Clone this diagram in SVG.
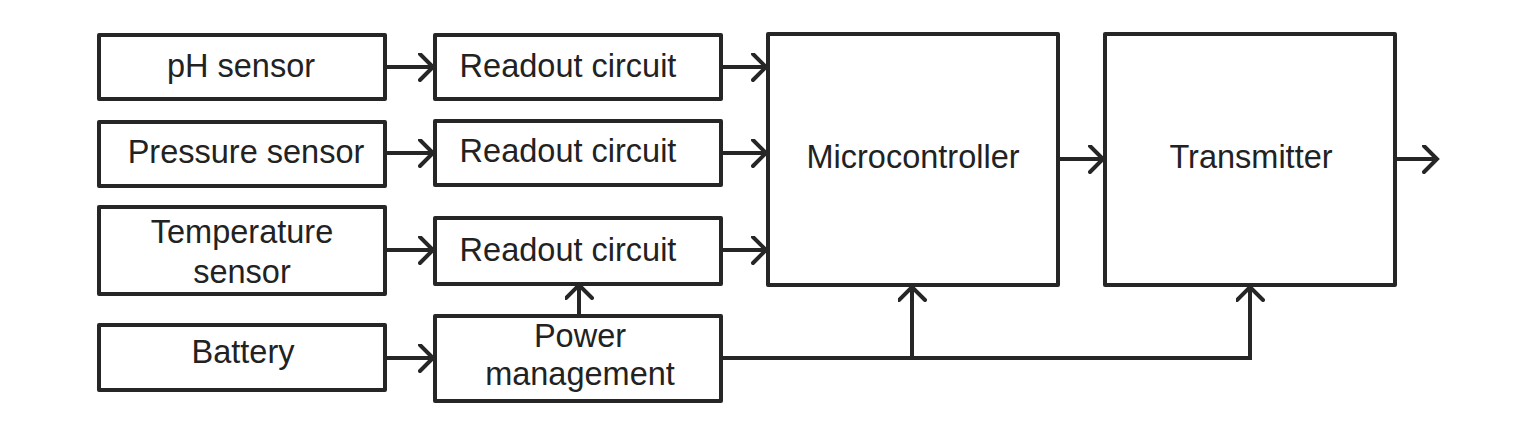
<svg xmlns="http://www.w3.org/2000/svg" width="1527" height="421" viewBox="0 0 1527 421">
<defs>
<style>
.box{fill:#fff;stroke:#262626;stroke-width:4;stroke-linejoin:round}
.lbl{font-family:"Liberation Sans",Arial,sans-serif;font-size:32.5px;fill:#222;text-anchor:middle}
.con{fill:none;stroke:#262626;stroke-width:4}
</style>
<marker id="arr" markerUnits="userSpaceOnUse" markerWidth="30" markerHeight="34" refX="16" refY="14" orient="auto" viewBox="0 0 30 34">
<path d="M2,1 L15,14 L2,27" fill="none" stroke="#262626" stroke-width="4" stroke-linecap="round" stroke-linejoin="miter"/>
</marker>
</defs>
<rect width="1527" height="421" fill="#fff"/>
<g id="connectors">
<line class="con" x1="385" y1="67" x2="434" y2="67" marker-end="url(#arr)"/>
<line class="con" x1="385" y1="153" x2="434" y2="153" marker-end="url(#arr)"/>
<line class="con" x1="385" y1="250" x2="434" y2="250" marker-end="url(#arr)"/>
<line class="con" x1="385" y1="358" x2="434" y2="358" marker-end="url(#arr)"/>
<line class="con" x1="721" y1="67" x2="767" y2="67" marker-end="url(#arr)"/>
<line class="con" x1="721" y1="153" x2="767" y2="153" marker-end="url(#arr)"/>
<line class="con" x1="721" y1="250" x2="767" y2="250" marker-end="url(#arr)"/>
<line class="con" x1="579" y1="316" x2="579" y2="284" marker-end="url(#arr)"/>
<line class="con" x1="1058" y1="159" x2="1104" y2="159" marker-end="url(#arr)"/>
<line class="con" x1="1395" y1="159" x2="1438" y2="159" marker-end="url(#arr)"/>
<polyline class="con" points="721,358 1250,358 1250,286" marker-end="url(#arr)"/>
<line class="con" x1="912" y1="358" x2="912" y2="286" marker-end="url(#arr)"/>
</g>
<g id="ph"><rect class="box" x="99" y="35" width="286" height="64"/><text class="lbl" x="241" y="77">pH sensor</text></g>
<g id="pressure"><rect class="box" x="99" y="122" width="286" height="64"/><text class="lbl" x="246" y="163">Pressure sensor</text></g>
<g id="temperature"><rect class="box" x="99" y="207" width="286" height="87"/><text class="lbl" x="242" y="243">Temperature</text><text class="lbl" x="242" y="283">sensor</text></g>
<g id="battery"><rect class="box" x="99" y="325" width="286" height="65"/><text class="lbl" x="243" y="363">Battery</text></g>
<g id="readout1"><rect class="box" x="435" y="35" width="286" height="64"/><text class="lbl" x="568" y="77">Readout circuit</text></g>
<g id="readout2"><rect class="box" x="435" y="121" width="286" height="64"/><text class="lbl" x="568" y="162">Readout circuit</text></g>
<g id="readout3"><rect class="box" x="435" y="218" width="286" height="66"/><text class="lbl" x="568" y="261">Readout circuit</text></g>
<g id="power"><rect class="box" x="435" y="316" width="286" height="85"/><text class="lbl" x="580" y="347">Power</text><text class="lbl" x="580" y="385">management</text></g>
<g id="microcontroller"><rect class="box" x="768" y="34" width="290" height="251"/><text class="lbl" x="913" y="168">Microcontroller</text></g>
<g id="transmitter"><rect class="box" x="1105" y="34" width="290" height="251"/><text class="lbl" x="1251" y="168">Transmitter</text></g>
</svg>
